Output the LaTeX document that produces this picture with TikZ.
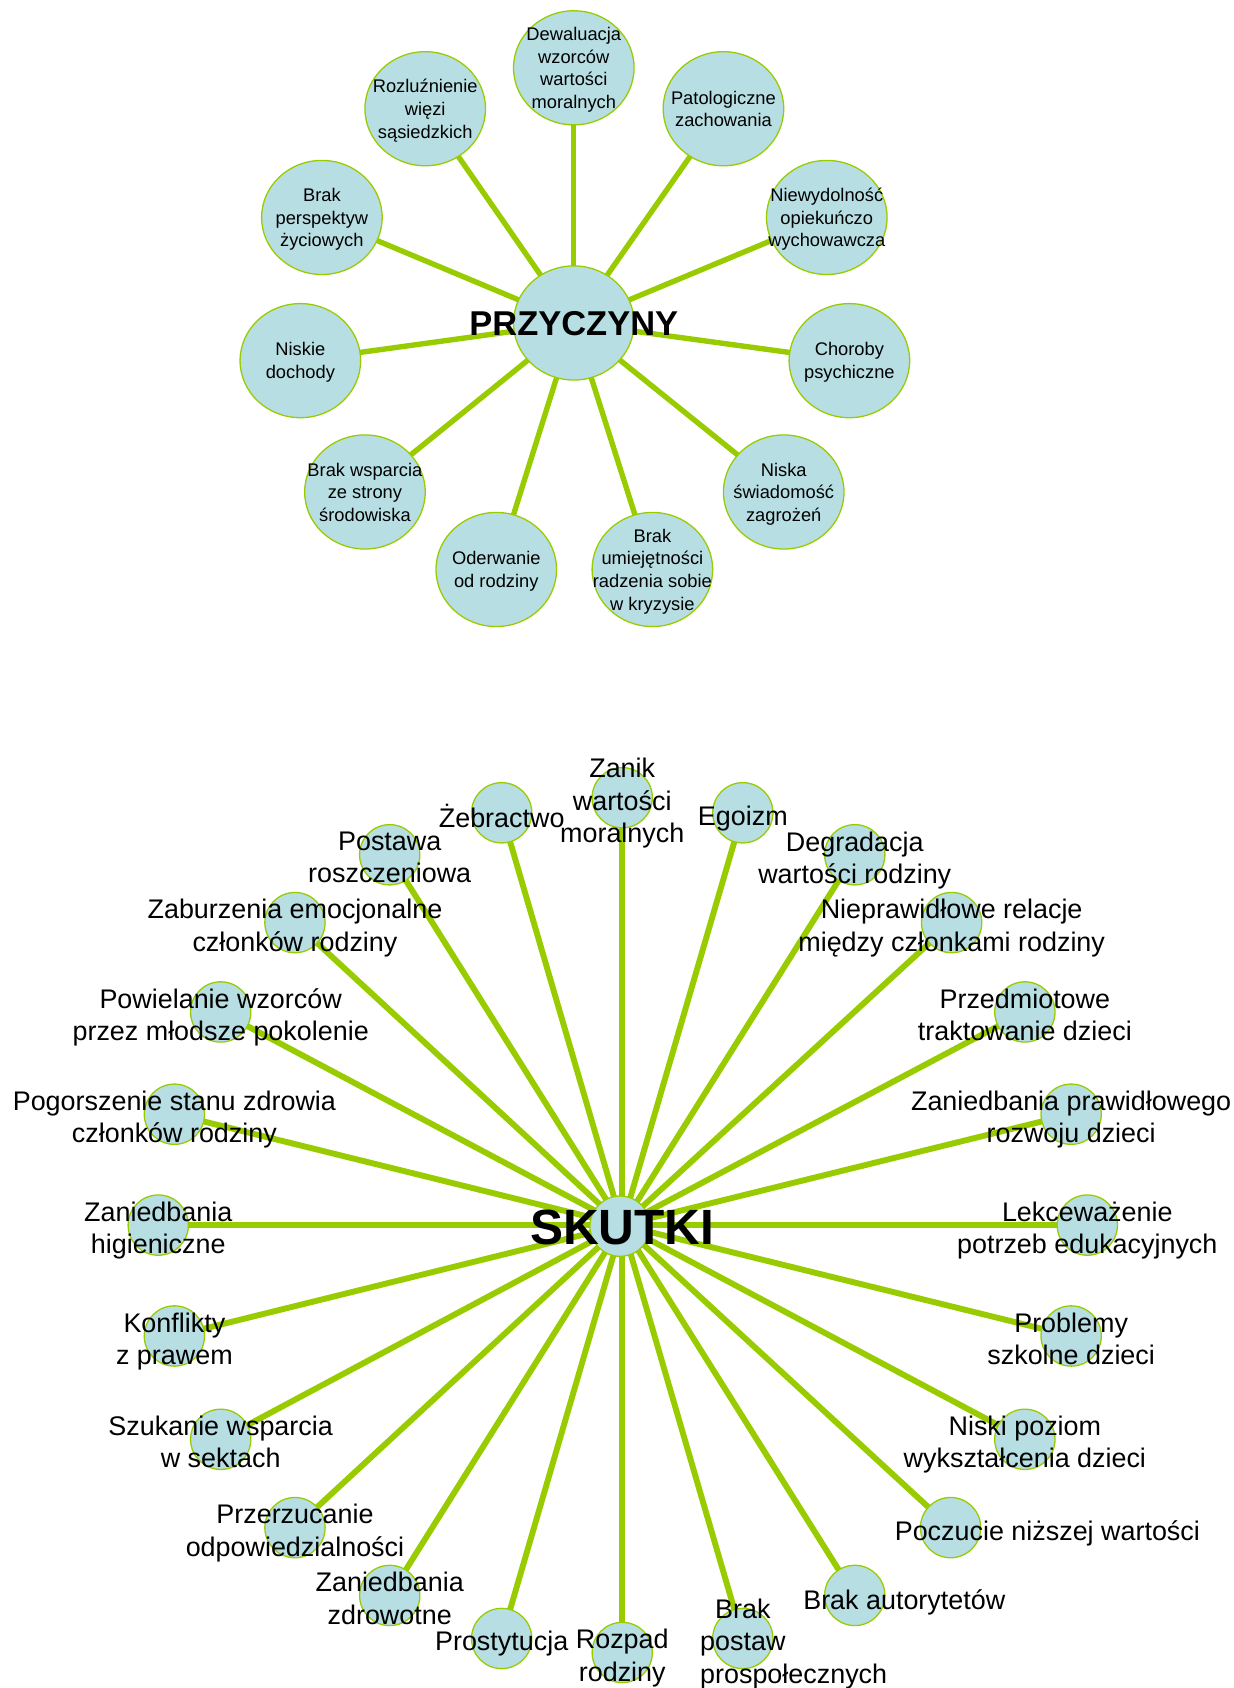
\documentclass[tikz,border=0pt]{standalone}
\usepackage{fontspec}
\setmainfont{Liberation Sans}
\usetikzlibrary{shapes.geometric,backgrounds}

\definecolor{leafgreen}{RGB}{153,204,0}
\definecolor{paleblue}{RGB}{183,222,227}

\tikzset{
    cause/.style={ellipse, draw=leafgreen, line width=1.2pt, fill=paleblue,
        minimum width=112pt, minimum height=106pt, inner sep=0pt},
    causetext/.style={align=center, inner sep=0pt, text depth=0pt, font=\fontsize{17}{21}\selectfont},
    effect/.style={circle, draw=leafgreen, line width=1.2pt, fill=paleblue,
        minimum size=56pt, inner sep=0pt},
    effecttext/.style={align=center, inner sep=0pt, text depth=0pt, yshift=-2.5pt,
        font=\fontsize{25}{30}\selectfont},
    spoke/.style={leafgreen, line width=5pt},
    bigspoke/.style={leafgreen, line width=5.5pt}
}

\begin{document}
\begin{tikzpicture}[x=1pt, y=-1pt]
            \useasboundingbox (0,0) rectangle (1146,1568);

            % przyczyny
            \node[cause] (przyczyny) at (533, 300) {};
            \node[font=\fontsize{32}{36}\selectfont\bfseries, inner sep=0pt] (przyczyny-t) at (533, 301) {PRZYCZYNY};

            \node[cause] (dewaluacja) at (533, 63) {};
            \node[causetext] (dewaluacja-t) at (dewaluacja) {Dewaluacja\\wzorców\\wartości\\moralnych};
            \node[cause] (patologie) at (672, 101) {};
            \node[causetext] (patologie-t) at (patologie) {Patologiczne\\zachowania};
            \node[cause] (niewydolnosc) at (768, 202) {};
            \node[causetext] (niewydolnosc-t) at (niewydolnosc) {Niewydolność\\opiekuńczo\\wychowawcza};
            \node[cause] (choroby) at (789, 335) {};
            \node[causetext] (choroby-t) at (choroby) {Choroby\\psychiczne};
            \node[cause] (swiadomosc) at (728, 457) {};
            \node[causetext] (swiadomosc-t) at (swiadomosc) {Niska\\świadomość\\zagrożeń};
            \node[cause] (kryzys) at (606, 529) {};
            \node[causetext] (kryzys-t) at (kryzys) {Brak\\umiejętności\\radzenia sobie\\w kryzysie};
            \node[cause] (oderwanie) at (461, 529) {};
            \node[causetext] (oderwanie-t) at (oderwanie) {Oderwanie\\od rodziny};
            \node[cause] (wsparcie) at (339, 457) {};
            \node[causetext] (wsparcie-t) at (wsparcie) {Brak wsparcia\\ze strony\\środowiska};
            \node[cause] (dochody) at (279, 335) {};
            \node[causetext] (dochody-t) at (dochody) {Niskie\\dochody};
            \node[cause] (perspektywy) at (299, 202) {};
            \node[causetext] (perspektywy-t) at (perspektywy) {Brak\\perspektyw\\życiowych};
            \node[cause] (wiezi) at (395, 101) {};
            \node[causetext] (wiezi-t) at (wiezi) {Rozluźnienie\\więzi\\sąsiedzkich};

            \begin{scope}[on background layer]
                \foreach \n in {dewaluacja, patologie, niewydolnosc, choroby, swiadomosc, kryzys,
                                oderwanie, wsparcie, dochody, perspektywy, wiezi}
                    \draw [spoke] (przyczyny.center) -- (\n.center);
            \end{scope}

            % skutki
            \node[effect] (skutki) at (576, 1139) {};
            \node[font=\fontsize{46}{50}\selectfont\bfseries, inner sep=0pt] (skutki-t) at (578, 1140) {SKUTKI};

            \node[effect] (zanik) at (578, 741) {};
            \node[effecttext] (zanik-t) at (zanik) {Zanik\\wartości\\moralnych};
            \node[effect] (egoizm) at (690, 755) {};
            \node[effecttext] (egoizm-t) at (egoizm) {Egoizm};
            \node[effect] (degradacja) at (794, 794) {};
            \node[effecttext] (degradacja-t) at (degradacja) {Degradacja\\wartości rodziny};
            \node[effect] (relacje) at (884, 857) {};
            \node[effecttext] (relacje-t) at (relacje) {Nieprawidłowe relacje\\między członkami rodziny};
            \node[effect] (przedmiot) at (952, 940) {};
            \node[effecttext] (przedmiot-t) at (przedmiot) {Przedmiotowe\\traktowanie dzieci};
            \node[effect] (rozwoj) at (995, 1035) {};
            \node[effecttext] (rozwoj-t) at (rozwoj) {Zaniedbania prawidłowego\\rozwoju dzieci};
            \node[effect] (edukacja) at (1010, 1138) {};
            \node[effecttext] (edukacja-t) at (edukacja) {Lekceważenie\\potrzeb edukacyjnych};
            \node[effect] (szkola) at (995, 1241) {};
            \node[effecttext] (szkola-t) at (szkola) {Problemy\\szkolne dzieci};
            \node[effect] (wyksztalcenie) at (952, 1337) {};
            \node[effecttext] (wyksztalcenie-t) at (wyksztalcenie) {Niski poziom\\wykształcenia dzieci};
            \node[effect] (wartosc) at (883, 1419) {};
            \node[effecttext, anchor=west] (wartosc-t) at (831, 1419) {Poczucie niższej wartości};
            \node[effect] (autorytety) at (794, 1482) {};
            \node[effecttext, anchor=west] (autorytety-t) at (746, 1483) {Brak autorytetów};
            \node[effect] (postawy) at (690, 1522) {};
            \node[effecttext] (postawy-t) at (postawy) {Brak\\postaw\\\rlap{prospołecznych}\phantom{postaw}};
            \node[effect] (rozpad) at (578, 1535) {};
            \node[effecttext] (rozpad-t) at (rozpad) {Rozpad\\rodziny};
            \node[effect] (prostytucja) at (466, 1522) {};
            \node[effecttext] (prostytucja-t) at (prostytucja) {Prostytucja};
            \node[effect] (zdrowie) at (362, 1482) {};
            \node[effecttext] (zdrowie-t) at (zdrowie) {Zaniedbania\\zdrowotne};
            \node[effect] (odpowiedz) at (274, 1419) {};
            \node[effecttext] (odpowiedz-t) at (odpowiedz) {Przerzucanie\\odpowiedzialności};
            \node[effect] (sekty) at (205, 1337) {};
            \node[effecttext] (sekty-t) at (sekty) {Szukanie wsparcia\\w sektach};
            \node[effect] (prawo) at (162, 1241) {};
            \node[effecttext] (prawo-t) at (prawo) {Konflikty\\z prawem};
            \node[effect] (higiena) at (147, 1138) {};
            \node[effecttext] (higiena-t) at (higiena) {Zaniedbania\\higieniczne};
            \node[effect] (pogorszenie) at (162, 1035) {};
            \node[effecttext] (pogorszenie-t) at (pogorszenie) {Pogorszenie stanu zdrowia\\członków rodziny};
            \node[effect] (powielanie) at (205, 940) {};
            \node[effecttext] (powielanie-t) at (powielanie) {Powielanie wzorców\\przez młodsze pokolenie};
            \node[effect] (zaburzenia) at (274, 857) {};
            \node[effecttext] (zaburzenia-t) at (zaburzenia) {Zaburzenia emocjonalne\\członków rodziny};
            \node[effect] (roszczenia) at (362, 794) {};
            \node[effecttext] (roszczenia-t) at (roszczenia) {Postawa\\roszczeniowa};
            \node[effect] (zebractwo) at (466, 755) {};
            \node[effecttext] (zebractwo-t) at (zebractwo) {Żebractwo};

            \begin{scope}[on background layer]
                \foreach \n in {zanik, egoizm, degradacja, relacje, przedmiot, rozwoj, edukacja, szkola,
                                wyksztalcenie, wartosc, autorytety, postawy, rozpad, prostytucja, zdrowie,
                                odpowiedz, sekty, prawo, higiena, pogorszenie, powielanie, zaburzenia,
                                roszczenia, zebractwo}
                    \draw [bigspoke] (578, 1138) -- (\n.center);
            \end{scope}
    \end{tikzpicture}
\end{document}
